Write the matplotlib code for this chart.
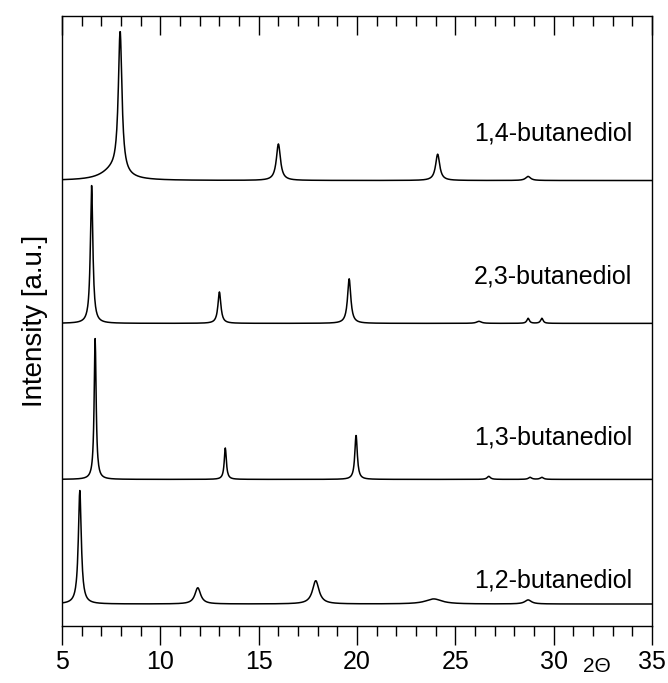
import numpy as np
import matplotlib
matplotlib.use("Agg")
from matplotlib import pyplot as plt
from matplotlib.ticker import MultipleLocator

plt.rcParams['font.family'] = ['Liberation Sans', 'DejaVu Sans']

# sample names, top to bottom
names = ['1,4-butanediol', '2,3-butanediol', '1,3-butanediol', '1,2-butanediol']
# vertical offset of each pattern (a.u.)
offsets = [440, 299, 145, 22]

# reflections: 2theta position, intensity (a.u.), FWHM (deg)
peaks_14 = [(7.95, 140, 0.22), (7.6, 10, 1.4), (16.0, 36, 0.25), (24.1, 26, 0.25), (28.7, 4, 0.3)]
peaks_23 = [(6.5, 136, 0.15), (13.0, 31, 0.18), (19.6, 44, 0.2), (26.2, 2, 0.3),
            (28.7, 5, 0.15), (29.4, 5, 0.15)]
peaks_13 = [(6.68, 139, 0.12), (13.3, 31, 0.13), (19.95, 44, 0.15), (26.7, 3, 0.2),
            (28.8, 2, 0.2), (29.4, 2, 0.2)]
peaks_12 = [(5.9, 112, 0.18), (11.9, 16, 0.35), (17.9, 23, 0.4), (23.9, 5, 1.0), (28.7, 4, 0.4)]
all_peaks = [peaks_14, peaks_23, peaks_13, peaks_12]

xticks = [5, 10, 15, 20, 25, 30, 35]

two_theta = np.arange(5.0, 35.0, 0.02)


def pattern(x, peaks):
    # sum of lorentzian profiles
    y = np.zeros_like(x)
    for pos, h, w in peaks:
        y += h / (1 + ((x - pos) / (w / 2)) ** 2)
    return y


fig = plt.figure(figsize=(6.68, 6.83), dpi=100)
ax = fig.add_axes([0.093, 0.083, 0.883, 0.893])

for name, off, pk in zip(names, offsets, all_peaks):
    ax.plot(two_theta, off + pattern(two_theta, pk), color='k', lw=1.1)

# labels at the right
label_y = [486, 345, 186, 45]
for name, ly in zip(names, label_y):
    ax.text(34.0, ly, name, ha='right', va='center', fontsize=18)

ax.set_xlim(5, 35)
ax.set_ylim(0, 602)
ax.set_xticks(xticks)
ax.set_xticklabels([str(t) for t in xticks])
ax.xaxis.set_minor_locator(MultipleLocator(1))
ax.set_yticks([])
ax.tick_params(axis='x', which='major', direction='out', length=14, width=1.0,
               labelsize=18, top=True, pad=3)
ax.tick_params(axis='x', which='minor', direction='out', length=7, width=1.0, top=True)
# top ticks point inside
for t in ax.xaxis.get_major_ticks() + ax.xaxis.get_minor_ticks():
    t.tick2line.set_marker(3)
ax.set_ylabel('Intensity [a.u.]', fontsize=20, labelpad=10)
ax.text(32.2, -0.05, '2\u0398', transform=ax.get_xaxis_transform(),
        ha='center', va='top', fontsize=15)

for s in ax.spines.values():
    s.set_linewidth(1.0)

fig.savefig('out.png', dpi=100)
